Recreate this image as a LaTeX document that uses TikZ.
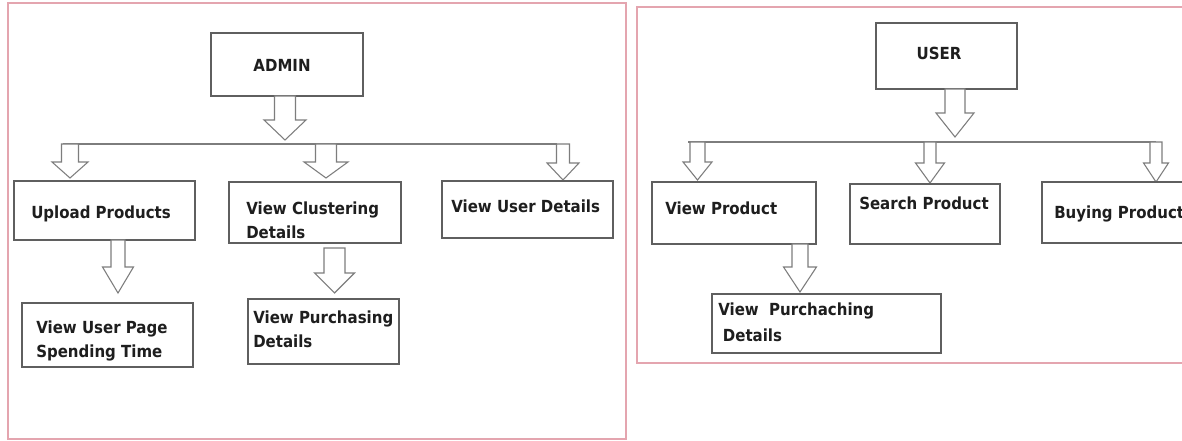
\documentclass[tikz,border=0pt]{standalone}
\usepackage{fontspec}
\newfontfamily\lblfont[FakeStretch=0.9]{DejaVu Sans}
\usetikzlibrary{fit}
\definecolor{framepink}{RGB}{228,165,175}
\definecolor{boxgray}{RGB}{95,95,95}
\definecolor{arrowgray}{RGB}{125,125,125}
\definecolor{inkdark}{RGB}{30,30,30}
\tikzset{
  panel/.style={draw=framepink, line width=0.9pt},
  boxst/.style={draw=boxgray, line width=0.9pt, inner sep=0pt, fill=white},
  lbl/.style={font=\lblfont\bfseries\fontsize{12.5}{18}\selectfont, text=inkdark, inner sep=0pt, align=left},
  blk/.style={draw=arrowgray, fill=white, line width=0.8pt, line join=miter},
  bus/.style={draw=arrowgray, line width=1.1pt},
}
% hollow block arrow: centre x, shaft half width, head half width, top y, head base y, tip y
\newcommand\blockarrow[6]{%
  \draw[blk] (#1-#2,#4) -- (#1-#2,#5) -- (#1-#3,#5) -- (#1,#6) -- (#1+#3,#5) -- (#1+#2,#5) -- (#1+#2,#4) -- cycle;}
\begin{document}
\begin{tikzpicture}[x=0.75pt,y=-0.75pt]
\clip (0,0) rectangle (1182,441);
\fill[white] (0,0) rectangle (1182,441);

% ---------------- admin panel ----------------
\draw[panel] (8,3) rectangle (626,439);

\node[boxst, fit={(211,33) (363,96)}] (admin) {};
\node[lbl] (adminT) at (282,65) {ADMIN};

\coordinate (abusL) at (63,144);
\coordinate (abusR) at (557,144);
\draw[bus] (abusL) -- (abusR);
\blockarrow{285}{10.5}{21}{96}{120}{140}
\blockarrow{70}{8.5}{18}{144}{162}{178}
\blockarrow{326}{10.5}{22}{144}{162}{178}
\blockarrow{563}{6.5}{16}{144}{163}{180}

\node[boxst, fit={(14,181) (195,240)}] (upload) {};
\node[lbl, anchor=base west] (uploadT) at (31,219) {Upload Products};

\node[boxst, fit={(229,182) (401,243)}] (cluster) {};
\node[lbl, anchor=north west] (clusterT) at (246,202) {View Clustering\\[-0.5pt]Details};

\node[boxst, fit={(442,181) (613,238)}] (userdet) {};
\node[lbl, anchor=base west] (userdetT) at (451,213) {View User Details};

\blockarrow{118}{7}{15.5}{240}{267}{293}
\blockarrow{334.5}{10.5}{20}{248}{273}{293}

\node[boxst, fit={(22,303) (193,367)}] (spend) {};
\node[lbl, anchor=north west] (spendT) at (36,321) {View User Page\\Spending Time};

\node[boxst, fit={(248,299) (399,364)}] (purch) {};
\node[lbl, anchor=north west] (purchT) at (253,311) {View Purchasing\\Details};

% ---------------- user panel ----------------
\draw[panel] (637,7) rectangle (1200,363);

\node[boxst, fit={(876,23) (1017,89)}] (user) {};
\node[lbl] (userT) at (939,53) {USER};

\coordinate (ubusL) at (688,142);
\coordinate (ubusR) at (1156,142);
\draw[bus] (ubusL) -- (ubusR);
\blockarrow{955}{10}{19}{89}{113}{137}
\blockarrow{697.5}{7.5}{14.5}{142}{162}{180}
\blockarrow{930}{6}{14.5}{142}{163}{183}
\blockarrow{1156}{6}{12.5}{142}{163}{182}

\node[boxst, fit={(652,182) (816,244)}] (viewprod) {};
\node[lbl, anchor=base west] (viewprodT) at (665,215) {View Product};

\node[boxst, fit={(850,184) (1000,244)}] (search) {};
\node[lbl, anchor=base west] (searchT) at (859,210) {Search Product};

\node[boxst, fit={(1042,182) (1200,243)}] (buy) {};
\node[lbl, anchor=base west] (buyT) at (1054,219) {Buying Product};

\blockarrow{800}{8}{16.5}{244}{267}{292}

\node[boxst, fit={(712,294) (941,353)}] (upurch) {};
\node[lbl, anchor=north west] (upurchT) at (718,303) {View\ \ Purchaching\\[1.5pt]\hspace{3.5pt}Details};
\end{tikzpicture}
\end{document}
